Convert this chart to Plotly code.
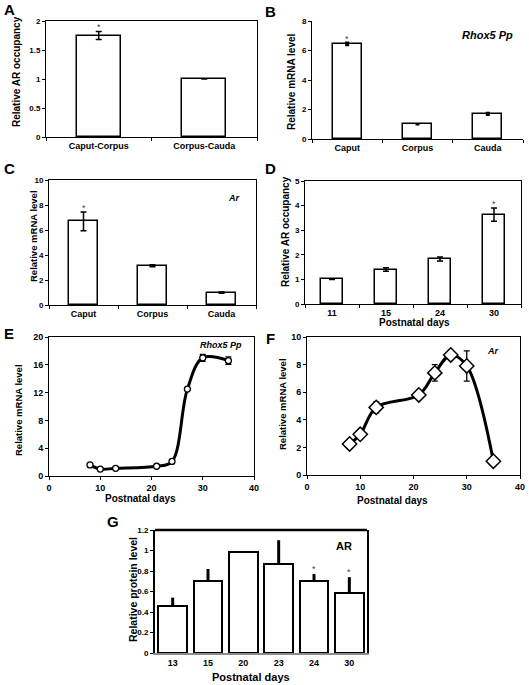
import plotly.graph_objects as go

W, H = 529, 685
FONT = "Liberation Sans, Arial, sans-serif"
NARROW = "Liberation Sans Narrow, Arial Narrow, Liberation Sans, sans-serif"

# ---------------- data ----------------
a_cats = ["Caput-Corpus", "Corpus-Cauda"]
a_vals = [1.75, 1.0]
a_err = [0.07, 0.0]
a_sig = [True, False]

b_cats = ["Caput", "Corpus", "Cauda"]
b_vals = [6.45, 1.0, 1.7]
b_err = [0.08, 0.0, 0.06]
b_sig = [True, False, False]

c_cats = ["Caput", "Corpus", "Cauda"]
c_vals = [6.7, 3.15, 1.0]
c_err = [0.75, 0.08, 0.05]
c_sig = [True, False, False]

d_cats = ["11", "15", "24", "30"]
d_vals = [1.0, 1.4, 1.83, 3.63]
d_err = [0.0, 0.07, 0.08, 0.27]
d_sig = [False, False, False, True]

e_days = [8, 10, 13, 21, 24, 27, 30, 35]
e_vals = [1.6, 1.0, 1.1, 1.4, 2.1, 12.5, 17.0, 16.6]
e_err = [0, 0, 0, 0, 0, 0, 0.5, 0.55]

f_days = [8, 10, 13, 21, 24, 27, 30, 35]
f_vals = [2.25, 2.95, 4.9, 5.8, 7.4, 8.7, 7.9, 1.0]
f_err = [0, 0, 0.4, 0, 0.6, 0, 1.1, 0]

g_cats = ["13", "15", "20", "23", "24", "30"]
g_vals = [0.46, 0.70, 0.99, 0.87, 0.70, 0.59]
g_err = [0.08, 0.12, 0.005, 0.23, 0.07, 0.15]
g_sig = [False, False, False, False, True, True]

# ---------------- layout helpers ----------------
def dx(a, b):
    return [a / W, b / W]

def dy(top, bottom):
    return [1 - bottom / H, 1 - top / H]

def tf(size=8, fam=FONT):
    return dict(family=fam, size=size, color="black", weight="bold")

def axis(domain, mirror=True, lw=1, fam=FONT, tsize=8, **kw):
    d = dict(domain=domain, showline=True, linecolor="black", linewidth=lw,
             mirror=mirror, ticks="outside", ticklen=3, tickcolor="black",
             showgrid=False, zeroline=False, tickfont=tf(tsize, fam),
             fixedrange=True, automargin=False)
    d.update(kw)
    return d

def cat_axis(domain, cats, **kw):
    return axis(domain, type="category", categoryorder="array", categoryarray=cats,
                range=[-0.5, len(cats) - 0.5], **kw)

fig = go.Figure()

def bars(cats, vals, err, xa, ya, width, lw=1.5, ethick=1.5, ewidth=3):
    fig.add_trace(go.Bar(
        x=cats, y=vals, width=width, xaxis=xa, yaxis=ya,
        marker=dict(color="white", line=dict(color="black", width=lw)),
        error_y=dict(type="data", array=err, color="black",
                     thickness=ethick, width=ewidth, visible=True),
        showlegend=False))

bars(a_cats, a_vals, a_err, "x", "y", 0.42)
bars(b_cats, b_vals, b_err, "x2", "y2", 0.41, ethick=2.5, ewidth=2)
bars(c_cats, c_vals, c_err, "x3", "y3", 0.41)
bars(d_cats, d_vals, d_err, "x4", "y4", 0.40)

fig.add_trace(go.Scatter(
    x=e_days, y=e_vals, xaxis="x5", yaxis="y5", mode="lines+markers",
    line=dict(color="black", width=3, shape="spline"),
    marker=dict(symbol="circle", size=6, color="white",
                line=dict(color="black", width=1.3)),
    error_y=dict(type="data", array=e_err, color="black", thickness=1.3, width=3),
    showlegend=False))

fig.add_trace(go.Scatter(
    x=f_days, y=f_vals, xaxis="x6", yaxis="y6", mode="lines+markers",
    line=dict(color="black", width=3, shape="spline"),
    marker=dict(symbol="diamond", size=11, color="white",
                line=dict(color="black", width=1.5)),
    error_y=dict(type="data", array=f_err, color="black", thickness=1.3, width=3),
    showlegend=False))

fig.add_trace(go.Bar(
    x=g_cats, y=g_vals, width=0.81, xaxis="x7", yaxis="y7",
    marker=dict(color="white", line=dict(color="black", width=2)),
    error_y=dict(type="data", symmetric=False, array=g_err,
                 arrayminus=[0] * len(g_err), color="black",
                 thickness=3, width=0),
    showlegend=False))

# ---------------- axes ----------------
fig.update_layout(
    width=W, height=H, margin=dict(l=0, r=0, t=0, b=0),
    paper_bgcolor="white", plot_bgcolor="white", bargap=0,
    xaxis=cat_axis(dx(46, 257), a_cats, anchor="y", tickson="boundaries", tickfont=tf(9)),
    yaxis=axis(dy(21, 137), anchor="x", range=[0, 2], dtick=0.5),
    xaxis2=cat_axis(dx(312, 523), b_cats, anchor="y2", mirror=False,
                    tickson="boundaries", tickfont=tf(9)),
    yaxis2=axis(dy(21, 139), anchor="x2", mirror=False, range=[0, 8], dtick=2),
    xaxis3=cat_axis(dx(49, 256), c_cats, anchor="y3", tickson="boundaries", tickfont=tf(9)),
    yaxis3=axis(dy(180, 305), anchor="x3", range=[0, 10], dtick=2),
    xaxis4=cat_axis(dx(305, 521), d_cats, anchor="y4", tickson="boundaries", tickfont=tf(9)),
    yaxis4=axis(dy(181, 304), anchor="x4", range=[0, 5], dtick=1),
    xaxis5=axis(dx(49, 254), anchor="y5", range=[0, 40], dtick=10, tickfont=tf(9)),
    yaxis5=axis(dy(337, 476), anchor="x5", range=[0, 20], dtick=4, tickfont=tf(9)),
    xaxis6=axis(dx(307, 520), anchor="y6", range=[0, 40], dtick=10, tickfont=tf(9)),
    yaxis6=axis(dy(337, 475), anchor="x6", range=[0, 10], dtick=2, tickfont=tf(9)),
    xaxis7=cat_axis(dx(155, 367), g_cats, anchor="y7", mirror=False, lw=2,
                    linecolor="#8c8c8c", ticks="", fam=NARROW, tsize=9),
    yaxis7=axis(dy(530, 653), anchor="x7", lw=2, range=[0, 1.2], dtick=0.2,
                fam=NARROW, tsize=8),
)

# top border for G
fig.add_shape(type="line", xref="x7 domain", yref="y7 domain",
              x0=0, x1=1, y0=1, y1=1, line=dict(color="black", width=2.5))

# ---------------- annotations ----------------
ann = []
def letter(t, x, y):
    ann.append(dict(text=f"<b>{t}</b>", x=x / W, y=1 - y / H, xref="paper", yref="paper",
                    showarrow=False, font=dict(family=FONT, size=15, color="black"),
                    xanchor="center", yanchor="middle"))

letter("A", 9, 10)
letter("B", 270, 12)
letter("C", 9, 168)
letter("D", 270, 168)
letter("E", 9, 333)
letter("F", 270, 338)
letter("G", 113, 521)

def ytitle(t, x, y, size=10, fam=FONT):
    ann.append(dict(text=f"<b>{t}</b>", x=x / W, y=1 - y / H, xref="paper", yref="paper",
                    showarrow=False, textangle=-90, xanchor="center", yanchor="middle",
                    font=dict(family=fam, size=size, color="black")))

def xtitle(t, x, y, size=10, fam=FONT):
    ann.append(dict(text=f"<b>{t}</b>", x=x / W, y=1 - y / H, xref="paper", yref="paper",
                    showarrow=False, xanchor="center", yanchor="middle",
                    font=dict(family=fam, size=size, color="black")))

ytitle("Relative AR occupancy", 17, 72)
ytitle("Relative mRNA level", 292, 82)
ytitle("Relative mRNA level", 33, 236, 9.5)
ytitle("Relative AR occupancy", 285, 232)
ytitle("Relative mRNA level", 18, 410, 9.5)
ytitle("Relative mRNA level", 282, 404, 9.5)
ytitle("Relative protein level", 133, 590, 10.5, NARROW)
xtitle("Postnatal days", 414, 322)
xtitle("Postnatal days", 140, 499)
xtitle("Postnatal days", 392, 500)
xtitle("Postnatal days", 251, 677, 11, NARROW)

def stars(cats, vals, err, sig, xa, ya, shift=-3, size=9):
    for i, (v, e, s) in enumerate(zip(vals, err, sig)):
        if s:
            ann.append(dict(text="*", x=i, y=v + e, xref=xa, yref=ya, showarrow=False,
                            yanchor="bottom", yshift=shift,
                            font=dict(family=FONT, size=size, color="#444")))

stars(a_cats, a_vals, a_err, a_sig, "x", "y")
stars(b_cats, b_vals, b_err, b_sig, "x2", "y2")
stars(c_cats, c_vals, c_err, c_sig, "x3", "y3")
stars(d_cats, d_vals, d_err, d_sig, "x4", "y4")
stars(g_cats, g_vals, g_err, g_sig, "x7", "y7", shift=-2)

def label(t, xa, ya, x, y, size, fam=FONT):
    ann.append(dict(text=t, x=x, y=y, xref=f"{xa} domain", yref=f"{ya} domain",
                    showarrow=False, xanchor="right", yanchor="middle",
                    font=dict(family=fam, size=size, color="black")))

label("<b><i>Rhox5 Pp</i></b>", "x2", "y2", 0.96, 0.88, 11)
label("<b><i>Ar</i></b>", "x3", "y3", 0.93, 0.86, 9)
label("<b><i>Rhox5 Pp</i></b>", "x5", "y5", 0.95, 0.94, 9, NARROW)
label("<b><i>Ar</i></b>", "x6", "y6", 0.91, 0.90, 9, NARROW)
label("<b>AR</b>", "x7", "y7", 0.94, 0.87, 11, NARROW)

fig.update_layout(annotations=ann)
fig.write_html("out.html", config={"displayModeBar": False},
               post_script="document.body.style.margin='0';document.body.style.overflow='hidden';")
